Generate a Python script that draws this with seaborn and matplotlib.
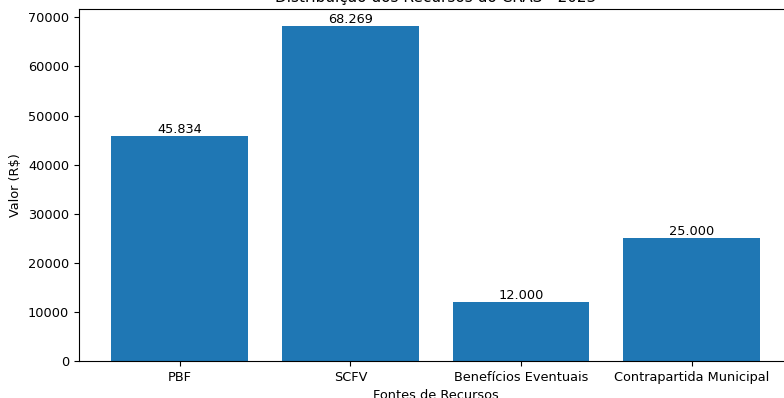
import matplotlib
matplotlib.use("Agg")
import matplotlib.pyplot as plt
import seaborn as sns
import pandas as pd

# Dados dos recursos
fontes = ["PBF", "SCFV", "Benefícios Eventuais", "Contrapartida Municipal"]
valores = [45834, 68269, 12000, 25000]
rotulos = ["45.834", "68.269", "12.000", "25.000"]

df = pd.DataFrame({"Fonte": fontes, "Valor": valores})

plt.rcParams["font.size"] = 9.3

fig = plt.figure(figsize=(7.84, 3.98), dpi=100)
ax = fig.add_axes([0.1008, 0.093, 0.910, 0.884])

sns.barplot(data=df, x="Fonte", y="Valor", color="#1f77b4", saturation=1,
            width=0.8, ax=ax)
ax.bar_label(ax.containers[0], labels=rotulos, fontsize=9.3)

ax.set_xlim(-0.59, 3.59)
ax.set_ylim(0, 71682)
ax.set_title("Distribuição dos Recursos do CRAS - 2023", fontsize=11, pad=5.5)
ax.set_xlabel("Fontes de Recursos")
ax.set_ylabel("Valor (R$)")

plt.savefig("out.png", dpi=100)
